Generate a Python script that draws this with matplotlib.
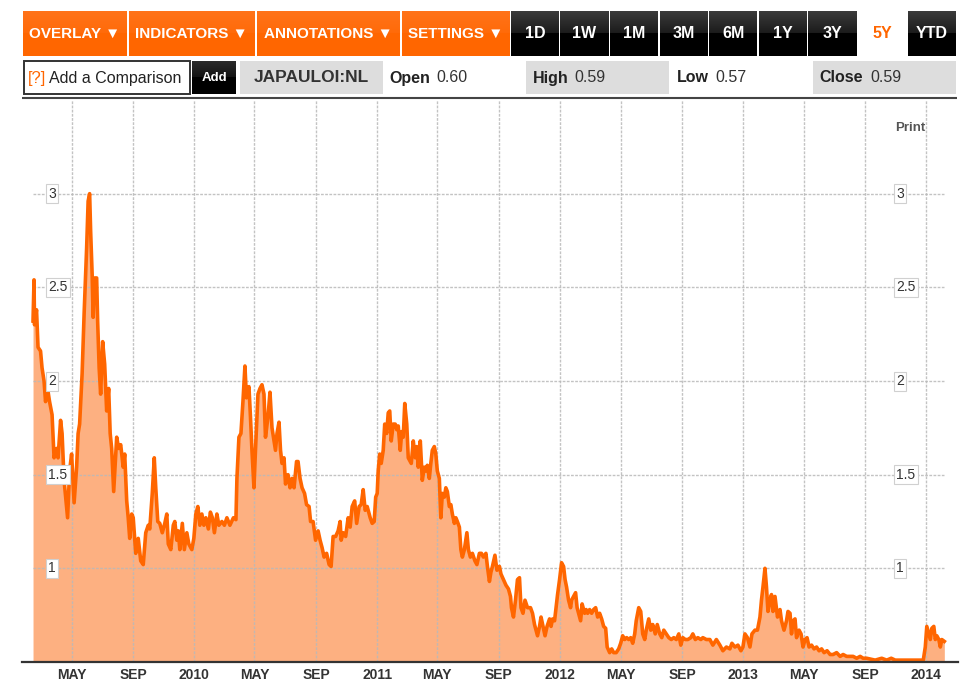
import matplotlib
matplotlib.use('Agg')
import matplotlib.pyplot as plt
import numpy as np
import pandas as pd
from matplotlib.patches import Rectangle

# ---------------- data ----------------
start_date = '2009-02-13'
day_offsets = [
    0, 2, 3, 7, 10, 15, 18, 22, 25, 29, 33, 38, 42, 47, 50, 55, 58, 62, 69, 73,
    77, 82, 87, 90, 93, 98, 102, 107, 110, 113, 115, 118, 120, 123, 127, 129, 132, 135, 139, 143,
    147, 151, 154, 157, 161, 167, 171, 175, 180, 183, 187, 190, 193, 197, 200, 205, 210, 215, 220, 225,
    230, 233, 238, 242, 245, 249, 253, 258, 263, 267, 270, 275, 280, 283, 287, 290, 293, 298, 302, 307,
    311, 317, 321, 325, 329, 333, 337, 341, 345, 350, 354, 358, 362, 367, 371, 377, 382, 387, 393, 400,
    405, 407, 411, 415, 419, 423, 426, 431, 434, 437, 441, 444, 449, 453, 457, 461, 464, 469, 473, 477,
    481, 484, 487, 491, 494, 497, 501, 504, 509, 513, 517, 521, 526, 529, 533, 537, 542, 546, 551, 554,
    559, 564, 569, 573, 577, 581, 586, 591, 595, 599, 604, 609, 613, 615, 619, 624, 629, 633, 637, 642,
    646, 651, 655, 659, 663, 667, 673, 677, 681, 684, 687, 689, 692, 695, 699, 702, 706, 709, 712, 715,
    719, 723, 726, 729, 733, 736, 739, 742, 746, 749, 753, 755, 759, 763, 766, 769, 773, 777, 781, 784,
    787, 791, 794, 797, 801, 804, 807, 811, 814, 817, 821, 824, 827, 831, 834, 837, 841, 844, 847, 851,
    854, 857, 861, 866, 869, 873, 877, 882, 886, 891, 895, 899, 904, 907, 911, 914, 917, 922, 926, 931,
    934, 939, 944, 949, 953, 955, 959, 963, 967, 971, 974, 978, 982, 987, 993, 997, 1001, 1004, 1007, 1011,
    1014, 1018, 1022, 1026, 1031, 1034, 1037, 1041, 1044, 1047, 1051, 1055, 1059, 1062, 1065, 1069, 1073, 1075, 1079, 1083,
    1086, 1089, 1093, 1096, 1101, 1104, 1107, 1111, 1115, 1119, 1123, 1127, 1131, 1135, 1139, 1143, 1146, 1151, 1155, 1159,
    1164, 1169, 1173, 1177, 1181, 1185, 1189, 1193, 1197, 1201, 1204, 1209, 1213, 1217, 1221, 1224, 1229, 1233, 1237, 1242,
    1246, 1251, 1255, 1259, 1264, 1269, 1274, 1279, 1284, 1289, 1293, 1297, 1302, 1307, 1313, 1317, 1322, 1327, 1333, 1337,
    1344, 1351, 1357, 1364, 1371, 1377, 1384, 1391, 1395, 1401, 1407, 1413, 1417, 1421, 1426, 1431, 1435, 1441, 1446, 1451,
    1454, 1457, 1461, 1464, 1467, 1471, 1474, 1477, 1481, 1486, 1491, 1494, 1499, 1504, 1507, 1511, 1514, 1517, 1521, 1524,
    1529, 1533, 1537, 1541, 1545, 1549, 1554, 1559, 1564, 1569, 1574, 1579, 1585, 1591, 1597, 1604, 1611, 1617, 1624, 1631,
    1637, 1644, 1651, 1657, 1664, 1681, 1694, 1704, 1713, 1721, 1747, 1777, 1781, 1784, 1788, 1791, 1794, 1798, 1801, 1804,
    1808, 1811, 1814, 1819,
]
prices = [
    2.32, 2.54, 2.30, 2.38, 2.18, 2.16, 2.07, 2.00, 1.89, 1.96, 1.89, 1.82, 1.59, 1.64, 1.59, 1.79, 1.72, 1.47, 1.27, 1.52,
    1.61, 1.35, 1.54, 1.72, 1.77, 2.04, 2.36, 2.71, 2.96, 3.00, 2.80, 2.57, 2.34, 2.55, 2.55, 2.32, 2.07, 1.93, 2.21, 2.09,
    1.84, 1.96, 1.72, 1.64, 1.41, 1.70, 1.64, 1.66, 1.54, 1.61, 1.36, 1.27, 1.16, 1.29, 1.27, 1.08, 1.16, 1.04, 1.02, 1.19,
    1.23, 1.21, 1.40, 1.59, 1.43, 1.25, 1.24, 1.19, 1.24, 1.29, 1.13, 1.10, 1.23, 1.25, 1.15, 1.20, 1.10, 1.24, 1.10, 1.19,
    1.13, 1.10, 1.16, 1.29, 1.33, 1.23, 1.29, 1.23, 1.27, 1.21, 1.30, 1.27, 1.19, 1.29, 1.23, 1.25, 1.23, 1.27, 1.23, 1.27,
    1.26, 1.48, 1.70, 1.72, 1.89, 2.08, 1.91, 1.97, 1.81, 1.63, 1.43, 1.63, 1.93, 1.96, 1.98, 1.93, 1.70, 1.81, 1.94, 1.75,
    1.68, 1.63, 1.72, 1.78, 1.63, 1.56, 1.59, 1.45, 1.50, 1.43, 1.48, 1.43, 1.57, 1.57, 1.48, 1.43, 1.40, 1.34, 1.33, 1.25,
    1.25, 1.15, 1.20, 1.15, 1.11, 1.06, 1.08, 1.02, 1.01, 1.17, 1.17, 1.20, 1.25, 1.15, 1.19, 1.17, 1.27, 1.22, 1.33, 1.36,
    1.24, 1.33, 1.34, 1.42, 1.31, 1.33, 1.27, 1.24, 1.25, 1.38, 1.40, 1.52, 1.61, 1.56, 1.63, 1.77, 1.72, 1.83, 1.84, 1.68,
    1.77, 1.77, 1.74, 1.76, 1.63, 1.73, 1.70, 1.88, 1.77, 1.59, 1.57, 1.56, 1.68, 1.59, 1.65, 1.54, 1.68, 1.47, 1.54, 1.52,
    1.55, 1.48, 1.56, 1.63, 1.65, 1.61, 1.52, 1.48, 1.27, 1.40, 1.38, 1.43, 1.41, 1.33, 1.34, 1.29, 1.24, 1.27, 1.25, 1.22,
    1.10, 1.06, 1.10, 1.19, 1.10, 1.06, 1.08, 1.04, 1.02, 1.08, 1.08, 1.06, 1.08, 1.01, 0.93, 0.98, 1.01, 1.07, 0.99, 1.01,
    0.97, 0.94, 0.91, 0.89, 0.85, 0.79, 0.74, 0.83, 0.94, 0.95, 0.79, 0.76, 0.83, 0.79, 0.79, 0.76, 0.70, 0.67, 0.64, 0.69,
    0.74, 0.69, 0.64, 0.69, 0.73, 0.69, 0.73, 0.72, 0.79, 0.86, 0.94, 1.03, 1.01, 0.94, 0.90, 0.83, 0.79, 0.83, 0.85, 0.87,
    0.79, 0.76, 0.72, 0.81, 0.76, 0.78, 0.76, 0.78, 0.76, 0.78, 0.79, 0.74, 0.76, 0.73, 0.69, 0.68, 0.58, 0.55, 0.57, 0.55,
    0.55, 0.57, 0.60, 0.64, 0.62, 0.63, 0.62, 0.63, 0.60, 0.65, 0.72, 0.79, 0.77, 0.65, 0.62, 0.67, 0.73, 0.67, 0.70, 0.65,
    0.70, 0.65, 0.63, 0.67, 0.65, 0.63, 0.62, 0.63, 0.62, 0.65, 0.59, 0.63, 0.62, 0.62, 0.63, 0.65, 0.62, 0.63, 0.62, 0.63,
    0.62, 0.62, 0.59, 0.62, 0.59, 0.56, 0.58, 0.57, 0.60, 0.58, 0.59, 0.56, 0.58, 0.65, 0.63, 0.58, 0.65, 0.67, 0.67, 0.74,
    0.83, 0.90, 1.00, 0.90, 0.77, 0.83, 0.86, 0.77, 0.85, 0.74, 0.78, 0.72, 0.67, 0.72, 0.77, 0.76, 0.65, 0.72, 0.73, 0.63,
    0.67, 0.65, 0.58, 0.62, 0.63, 0.58, 0.59, 0.57, 0.58, 0.56, 0.57, 0.55, 0.56, 0.54, 0.54, 0.55, 0.53, 0.54, 0.53, 0.53,
    0.53, 0.52, 0.53, 0.52, 0.52, 0.51, 0.52, 0.51, 0.52, 0.51, 0.51, 0.51, 0.58, 0.69, 0.65, 0.62, 0.68, 0.69, 0.62, 0.64,
    0.62, 0.58, 0.62, 0.61,
]

tick_dates = ['2009-05-01', '2009-09-01', '2010-01-01', '2010-05-01', '2010-09-01',
              '2011-01-01', '2011-05-01', '2011-09-01', '2012-01-01', '2012-05-01',
              '2012-09-01', '2013-01-01', '2013-05-01', '2013-09-01', '2014-01-01']
tick_labels = ['MAY', 'SEP', '2010', 'MAY', 'SEP', '2011', 'MAY', 'SEP', '2012',
               'MAY', 'SEP', '2013', 'MAY', 'SEP', '2014']
y_ticks = [1.0, 1.5, 2.0, 2.5, 3.0]
y_tick_labels = ['1', '1.5', '2', '2.5', '3']

menu_labels = ['OVERLAY \u25BC', 'INDICATORS \u25BC', 'ANNOTATIONS \u25BC', 'SETTINGS \u25BC']
range_labels = ['1D', '1W', '1M', '3M', '6M', '1Y', '3Y', '5Y', 'YTD']
active_range = '5Y'
symbol = 'JAPAULOI:NL'
quote_fields = ['Open', 'High', 'Low', 'Close']
quote_values = ['0.60', '0.59', '0.57', '0.59']

# ---------------- figure ----------------
FONT = ['Liberation Sans', 'DejaVu Sans']
plt.rcParams['font.family'] = FONT

W, H = 972, 689
fig = plt.figure(figsize=(W / 100, H / 100), dpi=100)
fig.patch.set_facecolor('white')

dates = pd.Timestamp(start_date) + pd.to_timedelta(day_offsets, unit='D')
vals = np.array(prices)

ax_l, ax_r, ax_t, ax_b = 22, 958, 100, 662
ax = fig.add_axes([ax_l / W, (H - ax_b) / H, (ax_r - ax_l) / W, (ax_b - ax_t) / H])
ax.set_facecolor('white')
ax.set_ylim(0.5, 3.5)
ax.set_xlim(pd.Timestamp('2009-01-22'), pd.Timestamp('2014-03-05 07:00'))

ax.fill_between(dates, vals, 0.5, color='#FDB081', lw=0, zorder=1)
tds = pd.to_datetime(tick_dates)
ax.vlines(tds, 0.5, 3.5, colors='#b9b9b9', lw=1.0, linestyles=(0, (2, 1)), zorder=2, alpha=0.85)
ax.hlines(y_ticks, dates[0], dates[-1], colors='#b9b9b9', lw=1.0, linestyles=(0, (2, 1)), zorder=2, alpha=0.85)
ax.plot(dates, vals, color='#FF6600', lw=2.6, zorder=3, solid_joinstyle='round')

for s in ['top', 'left', 'right']:
    ax.spines[s].set_visible(False)
ax.spines['bottom'].set_color('#333333')
ax.spines['bottom'].set_linewidth(1.6)
ax.spines['bottom'].set_zorder(4)
ax.set_yticks([])
ax.set_xticks(tds)
ax.set_xticklabels(tick_labels, fontsize=10, fontweight='bold', color='#333333')
ax.tick_params(axis='x', length=0, pad=4)

ytr = ax.get_yaxis_transform()
for yv, lab in zip(y_ticks, y_tick_labels):
    for xa in [(48 - ax_l) / (ax_r - ax_l), (896 - ax_l) / (ax_r - ax_l)]:
        ax.text(xa, yv, lab, transform=ytr, ha='left', va='center', fontsize=10,
                color='#333333', zorder=5,
                bbox=dict(boxstyle='square,pad=0.18', fc='white', ec='#d0d0d0', lw=0.8))

# ---------------- overlay (toolbar) ----------------
ov = fig.add_axes([0, 0, 1, 1], zorder=10)
ov.set_xlim(0, W)
ov.set_ylim(H, 0)
ov.axis('off')

ov.text(910, 128, 'Print', ha='center', va='center', fontsize=9.5, fontweight='bold', color='#555555')


def grad_rect(x0, x1, y0, y1, top, mid, low):
    h = int(round(y1 - y0))
    top = np.array(matplotlib.colors.to_rgb(top))
    mid = np.array(matplotlib.colors.to_rgb(mid))
    low = np.array(matplotlib.colors.to_rgb(low))
    for i in range(h):
        f = i / max(h - 1, 1)
        if f < 0.5:
            c = top + (mid - top) * (f / 0.5)
        else:
            c = low
        ov.add_patch(Rectangle((x0, y0 + i), x1 - x0, 1.02, fc=c, ec='none', lw=0))


by0, by1 = 11, 56
orange_x = [(23, 127), (128.5, 255), (256.5, 400), (401.5, 509.5)]
for (x0, x1), lab in zip(orange_x, menu_labels):
    grad_rect(x0, x1, by0, by1, '#FF7219', '#FF6A08', '#FF6600')
    ov.text((x0 + x1) / 2, 34, lab, ha='center', va='center', fontsize=11,
            fontweight='bold', color='white')

rx0 = 510.7
step = 49.6
for i, lab in enumerate(range_labels):
    x0 = rx0 + i * step
    x1 = x0 + 48.3
    if lab == active_range:
        ov.text((x0 + x1) / 2, 34, lab, ha='center', va='center', fontsize=11.5,
                fontweight='bold', color='#FF6600')
    else:
        grad_rect(x0, x1, by0, by1, '#3a3a3a', '#1a1a1a', '#000000')
        ov.text((x0 + x1) / 2, 34, lab, ha='center', va='center', fontsize=11.5,
                fontweight='bold', color='white')

# second row
ry0, ry1 = 61, 94
ryc = 78
ov.add_patch(Rectangle((23.5, ry0), 166, ry1 - ry0, fc='white', ec='#333333', lw=1.4))
ov.text(28, ryc, '[?]', ha='left', va='center', fontsize=12, color='#FF6600')
ov.text(49, ryc, 'Add a Comparison', ha='left', va='center', fontsize=11.5, color='#222222')
grad_rect(191.7, 236, ry0, ry1, '#2a2a2a', '#111111', '#000000')
ov.text(214, ryc, 'Add', ha='center', va='center', fontsize=9.5, fontweight='bold', color='white')
ov.add_patch(Rectangle((240, ry0), 143, ry1 - ry0, fc='#DDDDDD', ec='none'))
ov.text(311.5, ryc, symbol, ha='center', va='center', fontsize=12.5, fontweight='bold', color='#333333')

ov.add_patch(Rectangle((526, ry0), 143.3, ry1 - ry0, fc='#DDDDDD', ec='none'))
ov.add_patch(Rectangle((812.7, ry0), 143.3, ry1 - ry0, fc='#DDDDDD', ec='none'))
field_x = [389, 532.7, 676.7, 819.3]
value_x = [436, 574.3, 715.3, 870]
for f, v, fx, vx in zip(quote_fields, quote_values, field_x, value_x):
    ov.text(fx, ryc, f, ha='left', va='center', fontsize=11.5, fontweight='bold', color='#222222')
    ov.text(vx, ryc, v, ha='left', va='center', fontsize=11.5, color='#333333')

ov.plot([21.7, 957], [98.3, 98.3], color='#444444', lw=1.5, solid_capstyle='butt')

fig.savefig('out.png', dpi=100, facecolor='white')
